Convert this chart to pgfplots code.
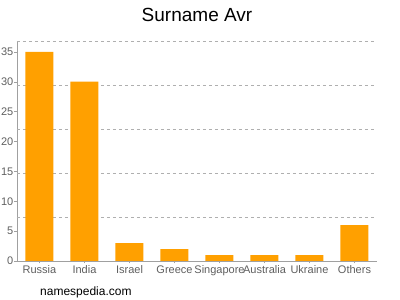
\documentclass[border=0pt]{standalone}
\usepackage{pgfplots}
\pgfplotsset{compat=1.18}
\usepackage{fontspec}
\setmainfont{Liberation Sans}
\definecolor{barc}{RGB}{255,160,0}
\definecolor{tickc}{RGB}{95,95,95}
\definecolor{gridc}{RGB}{175,175,175}
\definecolor{axisc}{RGB}{160,160,160}
\begin{document}
\begin{tikzpicture}[x=1pt,y=1pt]
\begin{axis}[
 at={(17pt,39pt)}, anchor=south west,
 scale only axis, width=360pt, height=220pt,
 xmin=-0.5, xmax=7.5, ymin=0, ymax=36.8,
 ybar, bar width=28pt,
 xtick=data,
 xticklabels={Russia,India,Israel,Greece,Singapore,Australia,Ukraine,Others},
 ytick={0,5,...,35},
 axis x line*=bottom, axis y line*=left,
 axis line style={draw=axisc,-},
 tick style={draw=axisc},
 tick align=outside,
 major tick length=2.5pt,
 /pgf/number format/assume math mode=true,
 x tick label style={font=\fontsize{11}{11}\selectfont, text=tickc, inner sep=2pt},
 y tick label style={font=\fontsize{11}{11}\selectfont, text=tickc, inner sep=1pt},
 extra y ticks={7.36,14.72,22.08,29.44,36.8},
 extra y tick labels={},
 extra y tick style={grid=major, major grid style={dashed, draw=gridc}, major tick length=0pt},
 ]
\addplot[fill=barc, draw=none] coordinates {(0,35) (1,30) (2,3) (3,2) (4,1) (5,1) (6,1) (7,6)};
\end{axis}
\node at (197pt,285pt) {\fontsize{19}{19}\selectfont Surname Avr};
\node[anchor=west, inner sep=0pt] at (40pt,8pt) {\fontsize{12}{12}\selectfont namespedia.com};
\pgfresetboundingbox
\useasboundingbox (0pt,0pt) rectangle (400pt,300pt);
\end{tikzpicture}
\end{document}
